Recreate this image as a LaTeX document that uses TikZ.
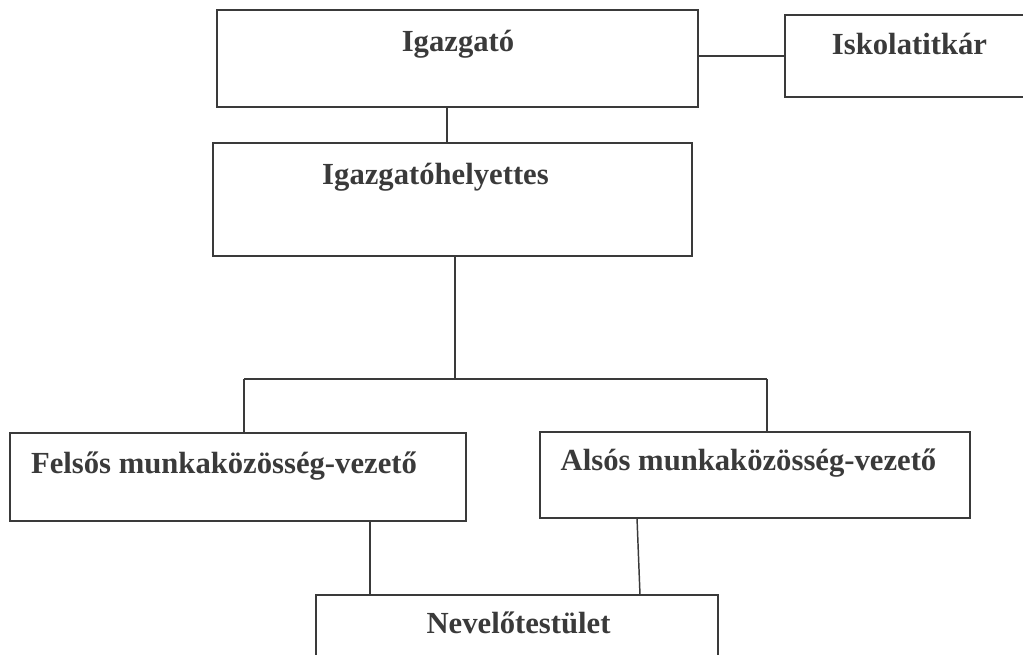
\documentclass[tikz,border=0pt]{standalone}
\usepackage{fontspec}
\setmainfont{Liberation Serif}
\usepackage{tikz}
\usepackage{xcolor}
\tikzset{every picture/.style={line width=0.75pt}}
\definecolor{scanink}{RGB}{58,58,58}

\begin{document}
\begin{tikzpicture}[x=0.75pt,y=0.75pt,yscale=-1,xscale=1,
  orgbox/.style={draw=scanink,line width=1.2pt,rectangle,inner sep=0pt,outer sep=0pt},
  orglabel/.style={anchor=base,text=scanink,font=\fontsize{23}{27}\selectfont\bfseries},
  orgline/.style={draw=scanink,line width=1.1pt}]
\useasboundingbox (0,0) rectangle (1023,655);

%Shape: Rectangle
\node [orgbox,minimum width=360.75pt,minimum height=72.75pt] (igazgato) at (457.5,58.5) {};
%Shape: Rectangle
\node [orgbox,minimum width=183.75pt,minimum height=61.5pt] (titkar) at (907.5,56) {};
%Shape: Rectangle
\node [orgbox,minimum width=359.25pt,minimum height=84.75pt] (helyettes) at (452.5,199.5) {};
%Shape: Rectangle
\node [orgbox,minimum width=342pt,minimum height=66pt] (felsos) at (238,477) {};
%Shape: Rectangle
\node [orgbox,minimum width=322.5pt,minimum height=64.5pt] (alsos) at (755,475) {};
%Shape: Rectangle
\node [orgbox,minimum width=301.5pt,minimum height=48.75pt] (nevelo) at (517,627.5) {};

% Text Node
\node [orglabel] (igazgatotxt) at (458,52) {Igazgató};
% Text Node
\node [orglabel] (titkartxt) at (909.5,55) {Iskolatitkár};
% Text Node
\node [orglabel] (helyettestxt) at (435.5,185) {Igazgatóhelyettes};
% Text Node
\node [orglabel] (felsostxt) at (224,473) {Felsős munkaközösség-vezető};
% Text Node
\node [orglabel] (alsostxt) at (748.5,470) {Alsós munkaközösség-vezető};
% Text Node
\node [orglabel] (nevelotxt) at (518.5,633) {Nevelőtestület};

\coordinate (jtop) at (447,0);
\coordinate (jmid) at (455,379);
\coordinate (lbranch) at (244,379);
\coordinate (rbranch) at (767,379);
\coordinate (jleft) at (370,0);
\coordinate (jright) at (637,0);
\coordinate (jright2) at (640,0);

%Straight Lines
\draw [orgline] (igazgato.east |- titkar.west) -- (titkar.west);
%Straight Lines
\draw [orgline] (jtop |- igazgato.south) -- (jtop |- helyettes.north);
%Straight Lines
\draw [orgline] (jmid |- helyettes.south) -- (jmid);
%Straight Lines
\draw [orgline] (lbranch) -- (rbranch);
\draw [orgline] (lbranch) -- (lbranch |- felsos.north);
\draw [orgline] (rbranch) -- (rbranch |- alsos.north);
%Straight Lines
\draw [orgline] (jleft |- felsos.south) -- (jleft |- nevelo.north);
\draw [orgline] (jright |- alsos.south) -- (jright2 |- nevelo.north);

\end{tikzpicture}
\end{document}
